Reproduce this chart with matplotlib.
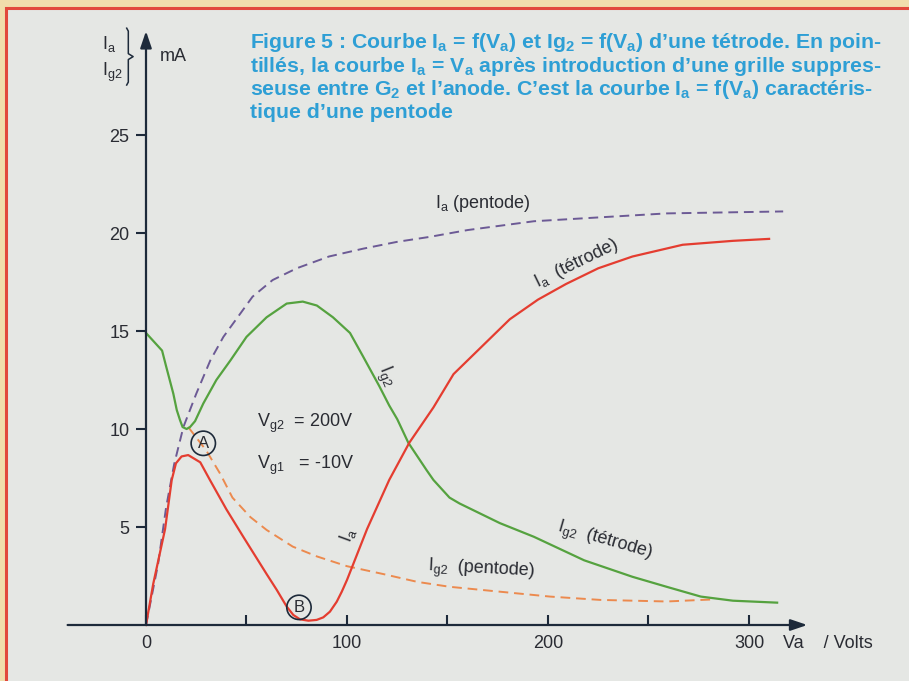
import matplotlib.pyplot as plt
from matplotlib.patches import Rectangle

# values (Va in volts, currents in mA)
va_ia_tetrode = [0, 3.6, 9.5, 12.8, 14.9, 17.7, 21, 27, 31.8, 40, 48.4, 60, 65, 70, 73.3, 76.6,
                 80.8, 84.9, 88.2, 91.5, 94.9, 97.4, 100, 110, 121, 131, 143, 153, 166, 181,
                 195, 209, 225, 242, 267, 292, 310]
ia_tetrode = [0, 2.1, 4.9, 7.4, 8.25, 8.6, 8.67, 8.3, 7.4, 5.9, 4.5, 2.6, 1.8, 0.94, 0.51, 0.29,
              0.22, 0.26, 0.39, 0.68, 1.19, 1.7, 2.3, 4.9, 7.4, 9.3, 11.1, 12.8, 14.1, 15.6,
              16.6, 17.4, 18.2, 18.8, 19.4, 19.6, 19.7]

va_ia_pentode = [0, 6, 10, 14, 18.6, 25, 32, 38.5, 47, 53, 63, 75, 91, 108, 125, 141,
                 160, 193, 226, 259, 317]
ia_pentode = [0, 3.1, 6.0, 8.2, 10.1, 11.8, 13.5, 14.7, 15.9, 16.75, 17.6, 18.2, 18.8, 19.2, 19.55, 19.8,
              20.15, 20.6, 20.8, 21.0, 21.1]

va_ig2_tetrode = [0, 8, 10, 13.6, 15.3, 16.9, 18.2, 20.2, 21.9, 24.4, 28.5, 35, 42, 50, 60, 70,
                  78, 85, 93, 101.5, 108, 116, 121, 125, 130.5, 139.6, 143, 151, 156, 176, 193,
                  218, 242, 259, 276, 292, 314]
ig2_tetrode = [14.9, 14.0, 13.2, 11.8, 10.97, 10.46, 10.1, 10.0, 10.1, 10.4, 11.3, 12.5, 13.5, 14.7, 15.7, 16.4,
               16.5, 16.3, 15.7, 14.9, 13.7, 12.2, 11.2, 10.5, 9.3, 7.9, 7.4, 6.5, 6.2, 5.2, 4.5,
               3.3, 2.46, 1.95, 1.45, 1.24, 1.14]

va_ig2_pentode = [21, 30, 37, 43, 52, 60, 73, 85, 100, 118, 135, 151, 176, 201, 226, 259, 281]
ig2_pentode = [10.1, 8.9, 7.7, 6.5, 5.5, 4.85, 4.0, 3.5, 3.0, 2.6, 2.2, 1.95, 1.7, 1.45, 1.28, 1.2, 1.3]

x_major = [0, 100, 200, 300]
x_minor = [50, 150, 250]
y_major = [5, 10, 15, 20, 25]

title_lines = [
    r'Figure 5 : Courbe I$_\mathbf{a}$ = f(V$_\mathbf{a}$) et Ig$_\mathbf{2}$ = f(V$_\mathbf{a}$) d’une tétrode. En poin-',
    r'tillés, la courbe I$_\mathbf{a}$ = V$_\mathbf{a}$ après introduction d’une grille suppres-',
    r'seuse entre G$_\mathbf{2}$ et l’anode. C’est la courbe I$_\mathbf{a}$ = f(V$_\mathbf{a}$) caractéris-',
    'tique d’une pentode',
]

plt.rcParams['font.family'] = ['Liberation Sans', 'DejaVu Sans']
plt.rcParams['mathtext.fontset'] = 'custom'
plt.rcParams['mathtext.rm'] = 'Liberation Sans'
plt.rcParams['mathtext.bf'] = 'Liberation Sans:bold'

ink = '#1d2a3a'
txt = '#2a2c33'
red = '#e43d30'
green = '#55a23f'
purple = '#6c5a95'
orange = '#ec8a4e'
blue = '#2e9fd5'

fig = plt.figure(figsize=(9.09, 6.81), dpi=100)
fig.patch.set_facecolor('#f1ddac')
fig.add_artist(Rectangle((6 / 909, -0.1), 1.2, 1.1 - 8 / 681, transform=fig.transFigure,
                         facecolor='#e5e7e4', edgecolor='#e2483c', linewidth=2.2, zorder=-1))

ax = fig.add_axes([0, 0, 1, 1])
ax.set_facecolor('none')
ax.set_xlim(-146 / 2.01, (909 - 146) / 2.01)
ax.set_ylim(-56 / 19.6, 625 / 19.6)

for s in ['top', 'right', 'left', 'bottom']:
    ax.spines[s].set_visible(False)
ax.spines['left'].set_position(('data', 0))
ax.spines['bottom'].set_position(('data', 0))

# axes with arrow heads
arrow = dict(arrowstyle='-|>,head_length=0.5,head_width=0.17', color=ink, lw=1.6,
             mutation_scale=20, shrinkA=0, shrinkB=0)
ax.annotate('', xy=(329, 0), xytext=(-39, 0), arrowprops=arrow)
ax.annotate('', xy=(0, 30.3), xytext=(0, 0), arrowprops=arrow)

ax.set_xticks(x_major)
ax.set_xticks(x_minor, minor=True)
ax.set_yticks(y_major)
ax.tick_params(axis='x', which='both', direction='in', length=7, width=1.5, color=ink,
               labelsize=13, pad=7, labelcolor=txt)
ax.tick_params(axis='y', direction='out', length=7, width=1.5, color=ink,
               labelsize=13, pad=5, labelcolor=txt)

# curves
ax.plot(va_ia_pentode, ia_pentode, color=purple, lw=1.4, ls=(0, (5, 3)))
ax.plot(va_ig2_pentode, ig2_pentode, color=orange, lw=1.4, ls=(0, (5, 3)))
ax.plot(va_ig2_tetrode, ig2_tetrode, color=green, lw=1.6)
ax.plot(va_ia_tetrode, ia_tetrode, color=red, lw=1.6)

# labels on the curves
fs = 13
ax.text(143.8, 21.5, r'I$_\mathrm{a}$ (pentode)', fontsize=fs, color=txt, va='center')
ax.text(214, 18.45, r'I$_\mathrm{a}$  (tétrode)', fontsize=fs, color=txt, ha='center',
        va='center', rotation=26, rotation_mode='anchor')
ax.text(119, 12.7, r'I$_\mathrm{g2}$', fontsize=fs, color=txt, ha='center', va='center',
        rotation=-68, rotation_mode='anchor')
ax.text(100.7, 4.6, r'I$_\mathrm{a}$', fontsize=fs, color=txt, ha='center', va='center',
        rotation=70, rotation_mode='anchor')
ax.text(228, 4.25, r'I$_\mathrm{g2}$  (tétrode)', fontsize=fs, color=txt, ha='center',
        va='center', rotation=-16, rotation_mode='anchor')
ax.text(167, 2.8, r'I$_\mathrm{g2}$  (pentode)', fontsize=fs, color=txt, ha='center',
        va='center', rotation=-3, rotation_mode='anchor')
ax.text(55, 10.3, r'V$_\mathrm{g2}$  = 200V', fontsize=fs, color=txt, va='center')
ax.text(55, 8.15, r'V$_\mathrm{g1}$   = -10V', fontsize=fs, color=txt, va='center')

circ = dict(boxstyle='circle,pad=0.28', fc='none', ec=ink, lw=1.2)
ax.text(28.5, 9.27, 'A', fontsize=12, color=txt, ha='center', va='center', bbox=circ)
ax.text(76.1, 0.9, 'B', fontsize=12, color=txt, ha='center', va='center', bbox=circ)

# axis titles
ax.text(317, -0.95, 'Va    / Volts', fontsize=fs, color=txt, va='center')
ax.text(7, 29.0, 'mA', fontsize=fs, color=txt, va='center')
ax.text(-22, 29.65, r'I$_\mathrm{a}$', fontsize=fs, color=txt, va='center')
ax.text(-22, 28.2, r'I$_\mathrm{g2}$', fontsize=fs, color=txt, va='center')
ax.plot([-9.6, -8.8, -8.8, -6.4, -8.8, -8.8, -9.6],
        [30.45, 30.3, 29.15, 29.0, 28.85, 27.7, 27.55], color=ink, lw=1.1)

# caption in the top right
for i, line in enumerate(title_lines):
    fig.text(250 / 909, 1 - (48 + 23.5 * i) / 681, line, fontsize=15.3, fontweight='bold',
             color=blue, va='baseline')

fig.savefig('out.png', dpi=100, facecolor=fig.get_facecolor())
